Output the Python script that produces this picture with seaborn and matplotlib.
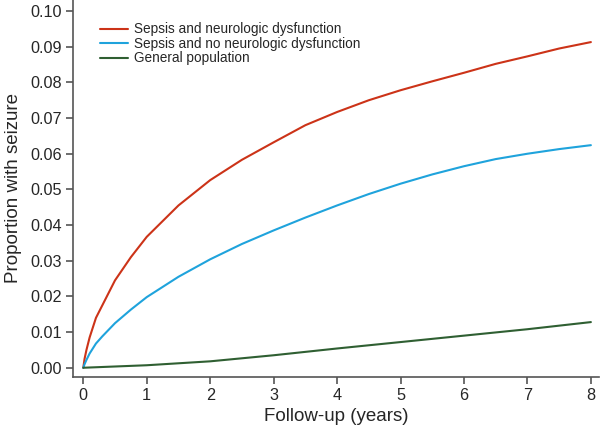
import pandas as pd
import seaborn as sns
import matplotlib.pyplot as plt

sns.set_style('ticks')
plt.rcParams['font.family'] = ['Liberation Sans', 'DejaVu Sans']

# follow-up times (years) and cumulative proportion with seizure
years = [0, 0.02, 0.05, 0.1, 0.2, 0.3, 0.5, 0.75, 1, 1.5, 2, 2.5, 3, 3.5,
         4, 4.5, 5, 5.5, 6, 6.5, 7, 7.5, 8]
sepsis_neuro = [0, 0.0025, 0.005, 0.0085, 0.014, 0.0175, 0.0245, 0.031,
                0.0367, 0.0455, 0.0526, 0.0583, 0.0632, 0.0680, 0.0717,
                0.0750, 0.0778, 0.0803, 0.0827, 0.0852, 0.0873, 0.0895, 0.0913]
sepsis_no_neuro = [0, 0.001, 0.0022, 0.004, 0.0068, 0.0088, 0.0125, 0.0163,
                   0.0198, 0.0255, 0.0304, 0.0347, 0.0385, 0.0421, 0.0455,
                   0.0487, 0.0516, 0.0542, 0.0565, 0.0585, 0.0600, 0.0613,
                   0.0624]
gen_years = [0, 1, 2, 3, 4, 5, 6, 7, 8]
general_pop = [0, 0.0007, 0.0018, 0.0035, 0.0054, 0.0072, 0.0090, 0.0108, 0.0128]

labels = ['Sepsis and neurologic dysfunction',
          'Sepsis and no neurologic dysfunction',
          'General population']
colors = ['#cc3318', '#1fa3dc', '#2f5f32']

df = pd.concat([
    pd.DataFrame({'years': years, 'prop': sepsis_neuro, 'group': labels[0]}),
    pd.DataFrame({'years': years, 'prop': sepsis_no_neuro, 'group': labels[1]}),
    pd.DataFrame({'years': gen_years, 'prop': general_pop, 'group': labels[2]}),
])

fig = plt.figure(figsize=(6.03, 4.29), dpi=100)
ax = fig.add_axes([0.1216, 0.122, 0.872, 0.878])
sns.lineplot(data=df, x='years', y='prop', hue='group', hue_order=labels,
             palette=colors, linewidth=1.5, ax=ax)

ax.set_xlim(-0.157, 8.13)
ax.set_ylim(-0.0025, 0.1031)
ax.set_xticks(range(0, 9))
ax.set_yticks([i / 100 for i in range(11)])
ax.set_yticklabels([f'{i / 100:.2f}' for i in range(11)])
ax.tick_params(labelsize=11.7, length=5, width=1.2, color='#555555', pad=3)
for s in ['left', 'bottom']:
    ax.spines[s].set_color('#555555')
    ax.spines[s].set_linewidth(1.2)
sns.despine(ax=ax)

ax.set_xlabel('Follow-up (years)', fontsize=13.5, labelpad=4)
ax.set_ylabel('Proportion with seizure', fontsize=13.5, labelpad=6)

ax.legend(title=None, frameon=False, loc='upper left',
          bbox_to_anchor=(0.041, 0.955), handlelength=2.0,
          handletextpad=0.45, labelspacing=0.04, borderaxespad=0,
          fontsize=9.8)

fig.savefig('out.png', dpi=100)
